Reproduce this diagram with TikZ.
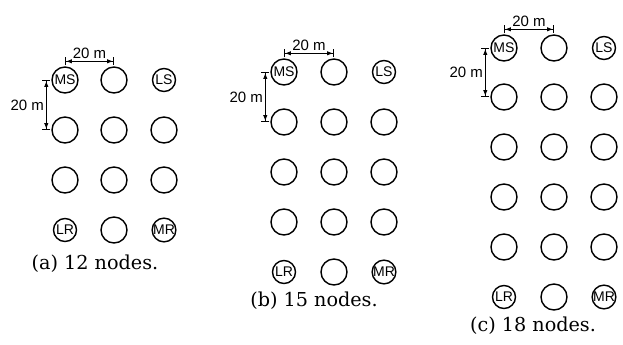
\documentclass[tikz,border=0pt]{standalone}
\usepackage{fontspec}
\setmainfont{DejaVu Serif}
\newfontfamily\lblfont{Liberation Sans}
\usetikzlibrary{arrows.meta}

\begin{document}
\begin{tikzpicture}[x=0.5pt, y=-0.5pt,
  sensor/.style={circle, draw, line width=0.7pt, minimum size=13pt, inner sep=0pt, font=\lblfont\fontsize{7}{8}\selectfont},
  tagged/.style={sensor, minimum size=11.5pt},
  dimline/.style={line width=0.45pt, {Bar[width=4pt]Latex[length=3pt,width=2.2pt]}-{Latex[length=3pt,width=2.2pt]Bar[width=4pt]}},
  dimlabel/.style={font=\lblfont\fontsize{7.5}{8}\selectfont, inner sep=1pt},
  caption/.style={font=\fontsize{9.6}{11}\selectfont}]
  \useasboundingbox (0,0) rectangle (623,344);
  % (a) 12 nodes
  \node[sensor] (a11) at (65,80) {MS};
  \node[sensor] (a12) at (114,80) {};
  \node[tagged] (a13) at (164,80) {LS};
  \node[sensor] (a21) at (65,130) {};
  \node[sensor] (a22) at (114,130) {};
  \node[sensor] (a23) at (164,130) {};
  \node[sensor] (a31) at (65,180) {};
  \node[sensor] (a32) at (114,180) {};
  \node[sensor] (a33) at (164,180) {};
  \node[tagged] (a41) at (65,230) {LR};
  \node[sensor] (a42) at (114,230) {};
  \node[tagged] (a43) at (164,230) {MR};
  \draw[dimline] ([yshift=2.5pt]a11.north) -- node[dimlabel, above] {20 m} ([yshift=2.5pt]a12.north);
  \draw[dimline] ([xshift=-2.5pt]a11.west) -- node[dimlabel, left] {20 m} ([xshift=-2.5pt]a21.west);
  \node[caption] (capa) at (95,264) {(a) 12 nodes.};
  % (b) 15 nodes
  \node[sensor] (b11) at (284,72) {MS};
  \node[sensor] (b12) at (334,72) {};
  \node[tagged] (b13) at (384,72) {LS};
  \node[sensor] (b21) at (284,122) {};
  \node[sensor] (b22) at (334,122) {};
  \node[sensor] (b23) at (384,122) {};
  \node[sensor] (b31) at (284,172) {};
  \node[sensor] (b32) at (334,172) {};
  \node[sensor] (b33) at (384,172) {};
  \node[sensor] (b41) at (284,222) {};
  \node[sensor] (b42) at (334,222) {};
  \node[sensor] (b43) at (384,222) {};
  \node[tagged] (b51) at (284,272) {LR};
  \node[sensor] (b52) at (334,272) {};
  \node[tagged] (b53) at (384,272) {MR};
  \draw[dimline] ([yshift=2.5pt]b11.north) -- node[dimlabel, above] {20 m} ([yshift=2.5pt]b12.north);
  \draw[dimline] ([xshift=-2.5pt]b11.west) -- node[dimlabel, left] {20 m} ([xshift=-2.5pt]b21.west);
  \node[caption] (capb) at (314,301) {(b) 15 nodes.};
  % (c) 18 nodes
  \node[sensor] (c11) at (504,48) {MS};
  \node[sensor] (c12) at (554,48) {};
  \node[tagged] (c13) at (604,48) {LS};
  \node[sensor] (c21) at (504,97) {};
  \node[sensor] (c22) at (554,97) {};
  \node[sensor] (c23) at (604,97) {};
  \node[sensor] (c31) at (504,147) {};
  \node[sensor] (c32) at (554,147) {};
  \node[sensor] (c33) at (604,147) {};
  \node[sensor] (c41) at (504,197) {};
  \node[sensor] (c42) at (554,197) {};
  \node[sensor] (c43) at (604,197) {};
  \node[sensor] (c51) at (504,247) {};
  \node[sensor] (c52) at (554,247) {};
  \node[sensor] (c53) at (604,247) {};
  \node[tagged] (c61) at (504,297) {LR};
  \node[sensor] (c62) at (554,297) {};
  \node[tagged] (c63) at (604,297) {MR};
  \draw[dimline] ([yshift=2.5pt]c11.north) -- node[dimlabel, above] {20 m} ([yshift=2.5pt]c12.north);
  \draw[dimline] ([xshift=-2.5pt]c11.west) -- node[dimlabel, left] {20 m} ([xshift=-2.5pt]c21.west);
  \node[caption] (capc) at (533,326) {(c) 18 nodes.};
\end{tikzpicture}
\end{document}
